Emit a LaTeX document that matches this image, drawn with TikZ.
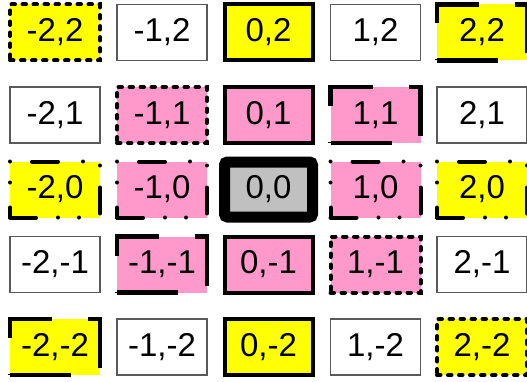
\documentclass[tikz,border=0pt]{standalone}
\usepackage{fontspec}
\setmainfont{Liberation Sans}
\usepackage{tikz}
\usepackage{xcolor}
\definecolor{cellyellow}{RGB}{255,255,0}
\definecolor{cellpink}{RGB}{255,153,204}
\definecolor{cellgray}{RGB}{192,192,192}

\begin{document}
\begin{tikzpicture}[
  x=1pt, y=1pt,
  cell/.style       = {rectangle, minimum width=90pt, minimum height=56pt, inner sep=0pt,
                       font=\fontsize{33}{38}\selectfont},
  plaincell/.style  = {cell, draw=black!65, line width=1.1pt, fill=white},
  dashcell/.style   = {cell, draw=black, line width=4pt, line cap=round,
                       dash pattern=on 3.5pt off 7.5pt},
  solidcell/.style  = {cell, minimum width=88pt, draw=black, line width=4pt},
  cornercell/.style = {cell, draw=black, line width=4.5pt,
                       dash pattern=on 61pt off 36pt},
  dotcell/.style    = {cell, draw=black, line width=4pt, line cap=round,
                       dash pattern=on 26pt off 22pt on 0pt off 21pt on 0pt off 25pt},
  origincell/.style = {cell, minimum width=88pt, minimum height=55pt, draw=black,
                       line width=11pt, rounded corners=3pt, fill=cellgray},
]
\useasboundingbox (0,0) rectangle (527,381);

% ========== Row 2 ==========
\node[dashcell, fill=cellyellow]   (cm2p2) at (55, 348.5)    {-2,2};
\node[plaincell]                   (cm1p2) at (162, 348.5)   {-1,2};
\node[solidcell, fill=cellyellow]  (c0p2)  at (268.5, 348.5) {0,2};
\node[plaincell]                   (cp1p2) at (375.5, 348.5) {1,2};
\node[cornercell, fill=cellyellow] (cp2p2) at (482, 348.5)   {2,2};

% ========== Row 1 ==========
\node[plaincell]                   (cm2p1) at (55, 266)    {-2,1};
\node[dashcell, fill=cellpink]     (cm1p1) at (162, 266)   {-1,1};
\node[solidcell, fill=cellpink]    (c0p1)  at (268.5, 266) {0,1};
\node[cornercell, fill=cellpink]   (cp1p1) at (375.5, 266) {1,1};
\node[plaincell]                   (cp2p1) at (482, 266)   {2,1};

% ========== Row 0 ==========
\node[dotcell, fill=cellyellow]    (cm20)  at (55, 191.5)    {-2,0};
\node[dotcell, fill=cellpink]      (cm10)  at (162, 191.5)   {-1,0};
\node[origincell]                  (c00)   at (268.5, 191.5) {0,0};
\node[dotcell, fill=cellpink]      (cp10)  at (375.5, 191.5) {1,0};
\node[dotcell, fill=cellyellow]    (cp20)  at (482, 191.5)   {2,0};

% ========== Row -1 ==========
\node[plaincell]                   (cm2m1) at (55, 116.5)    {-2,-1};
\node[cornercell, fill=cellpink]   (cm1m1) at (162, 116.5)   {-1,-1};
\node[solidcell, fill=cellpink]    (c0m1)  at (268.5, 116.5) {0,-1};
\node[dashcell, fill=cellpink]     (cp1m1) at (375.5, 116.5) {1,-1};
\node[plaincell]                   (cp2m1) at (482, 116.5)   {2,-1};

% ========== Row -2 ==========
\node[cornercell, fill=cellyellow] (cm2m2) at (55, 34)    {-2,-2};
\node[plaincell]                   (cm1m2) at (162, 34)   {-1,-2};
\node[solidcell, fill=cellyellow]  (c0m2)  at (268.5, 34) {0,-2};
\node[plaincell]                   (cp1m2) at (375.5, 34) {1,-2};
\node[dashcell, fill=cellyellow]   (cp2m2) at (482, 34)   {2,-2};

\end{tikzpicture}
\end{document}
